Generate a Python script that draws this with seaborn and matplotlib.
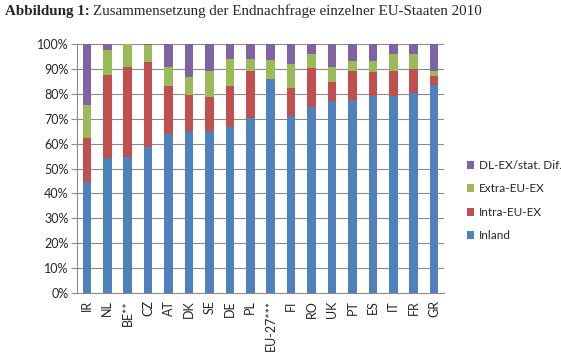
import numpy as np
import pandas as pd
import matplotlib
matplotlib.use("Agg")
import matplotlib.pyplot as plt
from matplotlib.patches import Patch
import seaborn as sns

# --- data (shares of final demand, %) ---
countries = ["IR", "NL", "BE**", "CZ", "AT", "DK", "SE", "DE", "PL", "EU-27***",
             "FI", "RO", "UK", "PT", "ES", "IT", "FR", "GR"]
inland = [44.4, 54.4, 54.8, 58.6, 64.0, 65.2, 65.2, 66.7, 70.4, 85.8,
          70.9, 74.7, 77.1, 77.6, 79.1, 79.1, 80.1, 83.4]
intra_eu = [17.8, 33.0, 35.7, 34.3, 19.0, 14.1, 13.5, 16.4, 18.8, 0.0,
            11.4, 15.4, 7.4, 11.4, 9.7, 9.8, 9.6, 3.5]
extra_eu = [13.2, 10.1, 9.5, 6.6, 7.8, 7.4, 10.3, 10.7, 4.9, 7.8,
            9.8, 6.0, 6.3, 4.0, 4.2, 7.2, 6.3, 2.1]
dl_ex = [24.6, 2.5, -0.5, 0.5, 9.2, 13.3, 11.0, 6.2, 5.9, 6.4,
         7.9, 3.9, 9.2, 7.0, 7.0, 3.9, 4.0, 11.0]

series_names = ["Inland", "Intra-EU-EX", "Extra-EU-EX", "DL-EX/stat. Dif."]
colors = ["#4F81BD", "#C0504D", "#9BBB59", "#8064A2"]

df = pd.DataFrame({"Land": countries, "Inland": inland, "Intra-EU-EX": intra_eu,
                   "Extra-EU-EX": extra_eu, "DL-EX/stat. Dif.": dl_ex})

# cumulative tops of the stack (negative parts start at 0)
pos = df[series_names].clip(lower=0)
tops = pos.cumsum(axis=1)
for name in series_names:
    neg = df[name] < 0
    tops.loc[neg, name] = df.loc[neg, name]

sns.set_style("white")
plt.rcParams["font.family"] = ["Lato", "DejaVu Sans"]

fig = plt.figure(figsize=(5.61, 3.62), dpi=100)
ax = fig.add_axes([0.1367, 0.190, 0.6553, 0.689])

grid_col = "#8C8C8C"
for y in range(10, 101, 10):
    ax.axhline(y, color=grid_col, lw=0.8, zorder=0)

# draw from the top of the stack downwards
for name, col in reversed(list(zip(series_names, colors))):
    plot_df = pd.DataFrame({"Land": countries, "top": tops[name].values})
    sns.barplot(data=plot_df, x="Land", y="top", color=col, width=0.42,
                saturation=1, edgecolor="none", ax=ax, zorder=2)

for p in ax.patches:
    p.set_clip_on(False)

ax.set_xlim(-0.5, len(countries) - 0.5)
ax.set_ylim(0, 100)
ax.set_xlabel("")
ax.set_ylabel("")
ax.set_yticks(range(0, 101, 10))
ax.set_yticklabels([f"{v}%" for v in range(0, 101, 10)], fontsize=9)
ax.set_xticks(range(len(countries)))
ax.set_xticklabels(countries, rotation=90, fontsize=9)
ax.set_xticks(np.arange(-0.5, len(countries), 1), minor=True)
ax.tick_params(axis="x", which="major", length=0, pad=5)
ax.tick_params(axis="x", which="minor", length=4, color=grid_col, width=0.8, direction="out")
ax.tick_params(axis="y", length=4, color=grid_col, width=0.8, direction="out", left=True, pad=2)

for s in ["top", "right"]:
    ax.spines[s].set_visible(False)
for s in ["left", "bottom"]:
    ax.spines[s].set_color(grid_col)
    ax.spines[s].set_linewidth(0.8)
    ax.spines[s].set_zorder(3)

handles = [Patch(facecolor=c, edgecolor="none") for c in reversed(colors)]
fig.legend(handles, list(reversed(series_names)), loc="upper left",
           bbox_to_anchor=(0.813, 0.588), frameon=False, fontsize=8.5,
           handlelength=0.65, handleheight=0.65, handletextpad=0.4, labelspacing=1.06)

# title: bold prefix + regular text
t1 = fig.text(5 / 561, 1 - 15 / 362, "Abbildung 1:", fontsize=10.8, fontweight="bold",
              family="Liberation Serif", va="baseline")
fig.canvas.draw()
bb = t1.get_window_extent()
fig.text((bb.x1 + 3) / 561, 1 - 15 / 362,
         "Zusammensetzung der Endnachfrage einzelner EU-Staaten 2010",
         fontsize=10.8, family="Liberation Serif", va="baseline")

fig.savefig("out.png", dpi=100)
